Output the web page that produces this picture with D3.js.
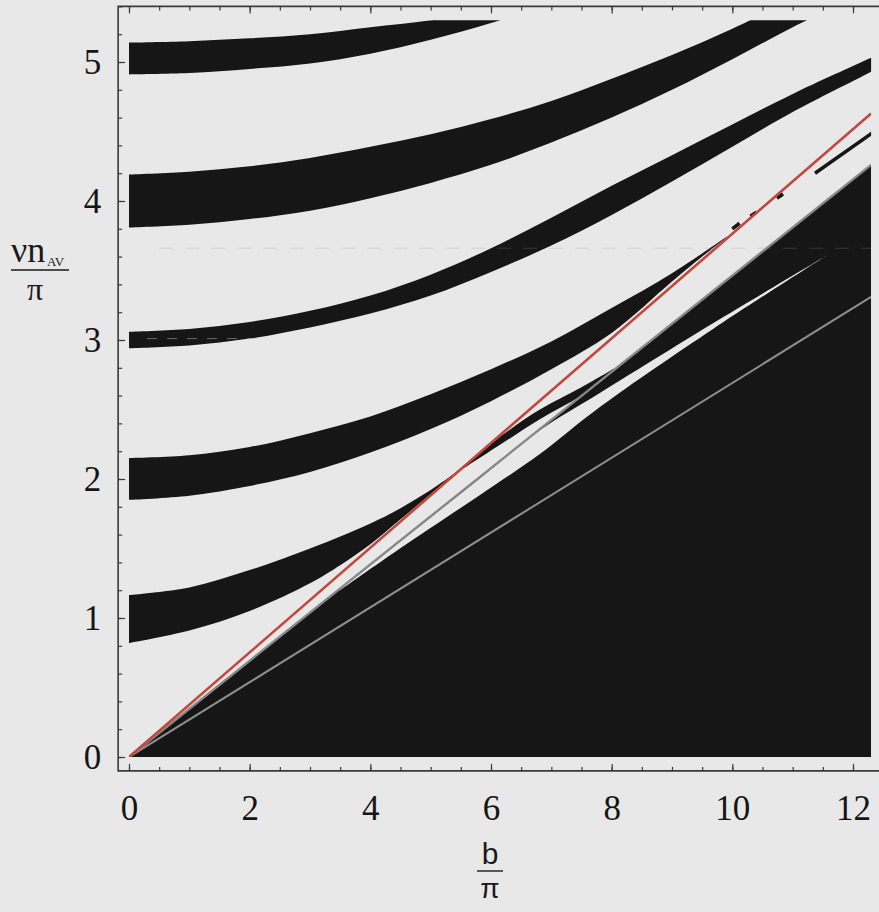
<!DOCTYPE html>
<html>
<head>
<meta charset="utf-8">
<script src="https://cdn.jsdelivr.net/npm/d3@7"></script>
<style>
  body { margin: 0; background: #e8e8e8; }
  svg { display: block; }
</style>
</head>
<body>
<svg id="chart" width="879" height="912"></svg>
<script>
// tick labels
var xTicks = [0, 2, 4, 6, 8, 10, 12];
var yTicks = [0, 1, 2, 3, 4, 5];

// band edges, [b/pi, nu n/pi]
var band5Upper = [[0, 5.14], [1, 5.15], [2, 5.17], [3, 5.20], [4, 5.25], [5, 5.30], [6, 5.37]];
var band5Lower = [[0, 4.91], [1, 4.92], [2, 4.95], [3, 4.99], [4, 5.06], [5, 5.16], [6, 5.28], [7, 5.43]];

var band4Upper = [[0, 4.19], [1, 4.21], [2, 4.25], [3, 4.31], [4, 4.39], [5, 4.48], [6, 4.59], [7, 4.72], [8, 4.88], [9, 5.05], [10, 5.24], [11, 5.45]];
var band4Lower = [[0, 3.81], [1, 3.83], [2, 3.87], [3, 3.93], [4, 4.02], [5, 4.13], [6, 4.26], [7, 4.42], [8, 4.60], [9, 4.80], [10, 5.02], [11, 5.25], [12, 5.46]];

var band3Upper = [[0, 3.06], [1, 3.08], [2, 3.13], [3, 3.21], [4, 3.32], [5, 3.47], [6, 3.66], [7, 3.88], [8, 4.11], [9, 4.33], [10, 4.55], [11, 4.77], [12.3, 5.03], [12.6, 5.09]];
var band3Lower = [[0, 2.94], [1, 2.96], [2, 3.01], [3, 3.09], [4, 3.19], [5, 3.32], [6, 3.49], [7, 3.68], [8, 3.90], [9, 4.14], [10, 4.39], [11, 4.64], [12.3, 4.93], [12.6, 5.00]];

var band2Upper = [[0, 2.15], [1, 2.17], [2, 2.23], [3, 2.33], [4, 2.45], [5, 2.61], [6, 2.79], [7, 2.99], [8, 3.23], [9, 3.48], [9.91, 3.745]];
var band2Lower = [[0, 1.85], [1, 1.88], [2, 1.95], [3, 2.05], [4, 2.19], [5, 2.36], [6, 2.56], [7, 2.79], [8, 3.05], [9, 3.42], [9.5, 3.60], [9.91, 3.74]];
var band2Pieces = [
  [[10.0, 3.80], [10.12, 3.84]],
  [[10.30, 3.89], [10.40, 3.92]],
  [[10.74, 4.02], [10.84, 4.05]],
  [[11.37, 4.20], [12.32, 4.49]]
];

var band1Upper = [[0, 1.165], [1, 1.22], [2, 1.345], [3, 1.50], [4, 1.68], [4.5, 1.79], [5, 1.92], [5.49, 2.07]];
var band1Lower = [[0, 0.82], [1, 0.91], [2, 1.05], [3, 1.25], [3.5, 1.38], [4, 1.53], [4.5, 1.71], [5, 1.89], [5.49, 2.065]];

// continuation of band 1 under the red line
var band1bUpper = [[5.49, 2.07], [6.2, 2.32], [6.81, 2.50], [7.5, 2.66], [8.14, 2.82]];
var band1bLower = [[5.49, 2.06], [6.2, 2.26], [6.81, 2.43], [7.5, 2.60], [8.14, 2.80]];

// white gap inside the lower black wedge
var gapUpper = [[3.5, 1.21], [4.49, 1.55], [5.8, 2.00], [6.81, 2.35], [7.81, 2.62], [9.68, 3.12], [11.57, 3.61]];
var gapLower = [[3.5, 1.20], [4.49, 1.50], [5.8, 1.88], [6.81, 2.18], [7.81, 2.52], [9.68, 3.08], [11.57, 3.61]];

// straight lines from the origin to the right edge
var redLine = [[0, 0], [12.3, 4.63]];
var grayLine = [[0, 0], [12.3, 4.26]];
var grayLine2 = [[0, 0], [12.3, 3.31]];

var bMax = 12.3, vMax = 5.3;
var serif = "Liberation Serif, Times New Roman, serif";

var svg = d3.select("#chart");
var x = d3.scaleLinear().domain([0, 12]).range([129, 853]);
var y = d3.scaleLinear().domain([0, 5]).range([757, 62]);

var ink = "#161616", paper = "#e8e8e8";

svg.append("rect").attr("width", 879).attr("height", 912).attr("fill", paper);

svg.append("clipPath").attr("id", "plot")
  .append("rect")
    .attr("x", x(0)).attr("y", y(vMax))
    .attr("width", x(bMax) - x(0)).attr("height", y(0) - y(vMax));

var line = d3.line()
    .x(function(d) { return x(d[0]); })
    .y(function(d) { return y(d[1]); })
    .curve(d3.curveCatmullRom);

var straight = d3.line()
    .x(function(d) { return x(d[0]); })
    .y(function(d) { return y(d[1]); });

function band(upper, lower) {
  return line(upper) + line(lower.slice().reverse()).replace(/^M/, "L") + "Z";
}

var g = svg.append("g").attr("clip-path", "url(#plot)");

// lower wedge
g.append("path")
    .attr("d", straight([[0, 0], grayLine[1], [bMax, 0]]) + "Z")
    .attr("fill", ink);

g.append("path").attr("d", band(gapUpper, gapLower)).attr("fill", paper);

g.append("path").attr("d", band(band1bUpper, band1bLower)).attr("fill", ink);

[[band1Upper, band1Lower], [band2Upper, band2Lower], [band3Upper, band3Lower],
 [band4Upper, band4Lower], [band5Upper, band5Lower]].forEach(function(b) {
  g.append("path").attr("d", band(b[0], b[1])).attr("fill", ink);
});

g.selectAll(".piece")
  .data(band2Pieces)
  .enter().append("path")
    .attr("class", "piece")
    .attr("d", straight)
    .attr("fill", "none")
    .attr("stroke", ink)
    .attr("stroke-width", 3.5);

// faint scan dashes
g.append("line")
    .attr("x1", x(0.5)).attr("x2", x(bMax))
    .attr("y1", y(3.66)).attr("y2", y(3.66))
    .attr("stroke", "#9a9a9a").attr("stroke-opacity", 0.25)
    .attr("stroke-width", 1).attr("stroke-dasharray", "14,12");
g.append("line")
    .attr("x1", x(0.3)).attr("x2", x(2.3))
    .attr("y1", y(3.01)).attr("y2", y(3.01))
    .attr("stroke", "#bbbbbb").attr("stroke-opacity", 0.5)
    .attr("stroke-width", 1).attr("stroke-dasharray", "10,10");

g.append("path").attr("d", straight(grayLine2)).attr("stroke", "#8e8e8e").attr("stroke-width", 2).attr("fill", "none");
g.append("path").attr("d", straight(grayLine)).attr("stroke", "#878787").attr("stroke-width", 2.4).attr("fill", "none");
g.append("path").attr("d", straight(redLine)).attr("stroke", "#c0483d").attr("stroke-width", 2.6).attr("fill", "none");

// frame
var frameL = x(-0.18), frameT = y(5.4), frameB = y(-0.1);
svg.append("path")
    .attr("d", "M890," + frameT + "H" + frameL + "V" + frameB + "H890")
    .attr("fill", "none").attr("stroke", "#3a3a3a").attr("stroke-width", 1.6);

var xMinor = d3.range(0, 25).map(function(i) { return i * 0.5; });
var yMinor = d3.range(0, 28).map(function(i) { return i * 0.2; });

// bottom axis
var bottomAxis = svg.append("g").attr("transform", "translate(0," + frameB + ")");
bottomAxis.append("g").call(d3.axisBottom(x).tickValues(xMinor).tickSize(-4).tickFormat(""));
bottomAxis.append("g").call(d3.axisBottom(x).tickValues(xTicks).tickSize(-7).tickPadding(24).tickFormat(d3.format("d")));

// top axis
var topAxis = svg.append("g").attr("transform", "translate(0," + frameT + ")");
topAxis.append("g").call(d3.axisTop(x).tickValues(xMinor).tickSize(-4).tickFormat(""));
topAxis.append("g").call(d3.axisTop(x).tickValues(xTicks).tickSize(-7).tickFormat(""));

// left axis
var leftAxis = svg.append("g").attr("transform", "translate(" + frameL + ",0)");
leftAxis.append("g").call(d3.axisLeft(y).tickValues(yMinor).tickSize(-4).tickFormat(""));
leftAxis.append("g").call(d3.axisLeft(y).tickValues(yTicks).tickSize(-7).tickPadding(17).tickFormat(d3.format("d")));

svg.selectAll(".domain").remove();
svg.selectAll(".tick line").attr("stroke", "#3a3a3a").attr("stroke-width", 1.2);
svg.selectAll(".tick text")
    .attr("font-family", serif)
    .attr("font-size", 35)
    .attr("fill", "#151515");

// y axis title
var yt = svg.append("g").attr("font-family", serif).attr("fill", "#1a1a1a");
yt.append("text").attr("x", 11).attr("y", 262).attr("font-size", 36).text("νn");
yt.append("text").attr("x", 47).attr("y", 266).attr("font-size", 13).text("AV");
yt.append("line").attr("x1", 11).attr("x2", 69).attr("y1", 270).attr("y2", 270)
    .attr("stroke", "#1a1a1a").attr("stroke-width", 1.4);
yt.append("text").attr("x", 35).attr("y", 300).attr("font-size", 32).attr("text-anchor", "middle").text("π");

// x axis title
var xt = svg.append("g").attr("font-family", "Liberation Sans, Arial, sans-serif").attr("fill", "#1a1a1a");
xt.append("text").attr("x", 490).attr("y", 864).attr("font-size", 30).attr("text-anchor", "middle").text("b");
xt.append("line").attr("x1", 477).attr("x2", 503).attr("y1", 871).attr("y2", 871)
    .attr("stroke", "#1a1a1a").attr("stroke-width", 1.4);
xt.append("text").attr("x", 490).attr("y", 898).attr("font-size", 28).attr("text-anchor", "middle").text("π");
</script>
</body>
</html>
